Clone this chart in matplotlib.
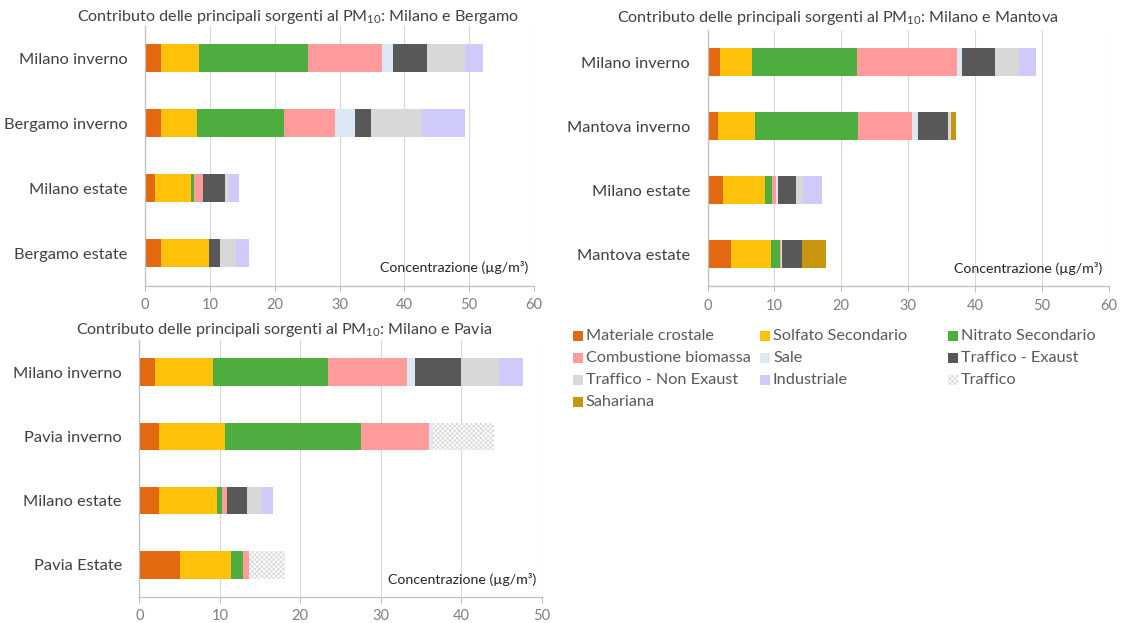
import matplotlib
matplotlib.use("Agg")
import matplotlib.pyplot as plt
from matplotlib.patches import Rectangle
import numpy as np

plt.rcParams["font.family"] = ["Lato", "DejaVu Sans"]
plt.rcParams["mathtext.fontset"] = "custom"
plt.rcParams["mathtext.rm"] = "Lato"
plt.rcParams["mathtext.it"] = "Lato:italic"
plt.rcParams["hatch.linewidth"] = 0.5

# Sources (stack order) and their colours
sources = ["Materiale crostale", "Solfato Secondario", "Nitrato Secondario",
           "Combustione biomassa", "Sale", "Traffico - Exaust",
           "Traffico - Non Exaust", "Industriale", "Traffico", "Sahariana"]
colors = ["#E2690F", "#FFC10A", "#4DAE3F", "#FF9B9B", "#DCE9F5", "#585858",
          "#D8D8D8", "#CECBFB", "#FFFFFF", "#C8960E"]
HATCH_COLOR = "#D2D2D2"

# Milano e Bergamo (rows = sources, cols = sites)
bergamo_sites = ["Milano inverno", "Bergamo inverno", "Milano estate", "Bergamo estate"]
bergamo_vals = [
    [2.4, 2.4, 1.6, 2.5],
    [6.0, 5.6, 5.5, 7.3],
    [16.7, 13.5, 0.5, 0.0],
    [11.5, 7.8, 1.35, 0.0],
    [1.7, 3.1, 0.0, 0.0],
    [5.2, 2.5, 3.35, 1.8],
    [5.8, 7.9, 0.65, 2.45],
    [2.8, 6.5, 1.6, 2.05],
    [0.0, 0.0, 0.0, 0.0],
    [0.0, 0.0, 0.0, 0.0],
]

# Milano e Mantova
mantova_sites = ["Milano inverno", "Mantova inverno", "Milano estate", "Mantova estate"]
mantova_vals = [
    [1.8, 1.6, 2.3, 3.5],
    [4.9, 5.5, 6.3, 5.95],
    [15.7, 15.4, 1.0, 1.35],
    [14.9, 8.1, 0.6, 0.2],
    [0.8, 0.9, 0.4, 0.2],
    [4.9, 4.4, 2.6, 2.9],
    [3.6, 0.5, 1.0, 0.0],
    [2.5, 0.0, 2.9, 0.0],
    [0.0, 0.0, 0.0, 0.0],
    [0.0, 0.8, 0.0, 3.65],
]

# Milano e Pavia
pavia_sites = ["Milano inverno", "Pavia inverno", "Milano estate", "Pavia Estate"]
pavia_vals = [
    [1.9, 2.4, 2.5, 5.1],
    [7.3, 8.3, 7.15, 6.35],
    [14.2, 16.8, 0.65, 1.4],
    [9.8, 8.5, 0.65, 0.75],
    [1.05, 0.5, 0.0, 0.0],
    [5.7, 0.0, 2.45, 0.0],
    [4.7, 0.0, 1.9, 0.0],
    [3.0, 0.0, 1.25, 0.0],
    [0.0, 7.5, 0.0, 4.45],
    [0.0, 0.0, 0.0, 0.0],
]

TXT = "#404040"
TICK = "#7F7F7F"
LEG = "#595959"
GRID = "#D9D9D9"
W, H = 1127, 623

fig = plt.figure(figsize=(W / 100, H / 100), dpi=100)


def px_axes(x0, x1, y0, y1):
    return fig.add_axes([x0 / W, 1 - y1 / H, (x1 - x0) / W, (y1 - y0) / H])


def stacked(ax, sites, vals, xmax):
    y = np.arange(len(sites))
    left = np.zeros(len(sites))
    for i, src in enumerate(sources):
        v = np.array(vals[i], dtype=float)
        if src == "Traffico":
            ax.barh(y, v, left=left, height=0.43, color="white",
                    edgecolor=HATCH_COLOR, hatch="xxxxxxx", linewidth=0)
        else:
            ax.barh(y, v, left=left, height=0.43, color=colors[i], linewidth=0)
        left += v
    ax.set_ylim(len(sites) - 0.5, -0.5)
    ax.set_yticks(y)
    ax.set_yticklabels(sites, fontsize=11.8, color=TXT)
    ax.set_xlim(0, xmax)
    ax.set_xticks(np.arange(0, xmax + 1, 10))
    ax.tick_params(axis="x", labelsize=10.5, colors=TICK, length=4,
                   color="#BFBFBF", pad=5)
    ax.tick_params(axis="y", length=0, pad=12.5)
    ax.grid(axis="x", color=GRID, linewidth=0.8)
    ax.set_axisbelow(True)
    for s in ("top", "right"):
        ax.spines[s].set_visible(False)
    for s in ("left", "bottom"):
        ax.spines[s].set_color("#BFBFBF")
        ax.spines[s].set_linewidth(0.9)
    ax.text(0.985, 0.068, "Concentrazione (µg/m³)", transform=ax.transAxes,
            ha="right", va="center", fontsize=10.2, color="#262626")


ax1 = px_axes(145, 534, 25.5, 285.5)
stacked(ax1, bergamo_sites, bergamo_vals, 60)
ax2 = px_axes(707.6, 1108.6, 30, 286)
stacked(ax2, mantova_sites, mantova_vals, 60)
ax3 = px_axes(139.3, 541.8, 340, 597)
stacked(ax3, pavia_sites, pavia_vals, 50)

titles = [
    ("Contributo delle principali sorgenti al PM$_{10}$: Milano e Bergamo", 298, 17),
    ("Contributo delle principali sorgenti al PM$_{10}$: Milano e Mantova", 838, 18),
    ("Contributo delle principali sorgenti al PM$_{10}$: Milano e Pavia", 284, 330),
]
for t, x, yy in titles:
    fig.text(x / W, 1 - yy / H, t, ha="center", va="center",
             fontsize=11.6, color=TXT)

# Legend laid out in three columns, row by row
legend_rows = [(0, 1, 2), (3, 4, 5), (6, 7, 8), (9,)]
col_x = [573, 760, 948]
row_y = [336, 358, 380, 402]
sq = 10
for r, row in enumerate(legend_rows):
    for c, idx in enumerate(row):
        x0, yc = col_x[c], row_y[r]
        if sources[idx] == "Traffico":
            patch = Rectangle((x0 / W, 1 - (yc + sq / 2) / H), sq / W, sq / H,
                              transform=fig.transFigure, facecolor="white",
                              edgecolor=HATCH_COLOR, hatch="xxxxxxx", linewidth=0)
        else:
            patch = Rectangle((x0 / W, 1 - (yc + sq / 2) / H), sq / W, sq / H,
                              transform=fig.transFigure, facecolor=colors[idx],
                              linewidth=0)
        fig.patches.append(patch)
        fig.text((x0 + sq + 3) / W, 1 - yc / H, sources[idx], ha="left",
                 va="center", fontsize=11.7, color=LEG)

fig.savefig("out.png", dpi=100, facecolor="white")
